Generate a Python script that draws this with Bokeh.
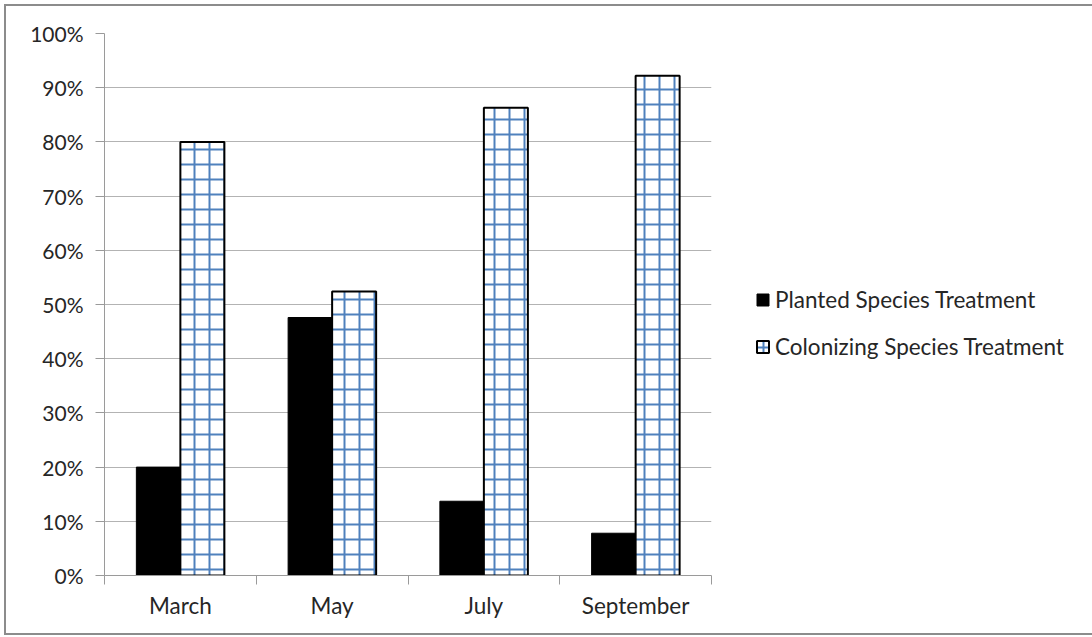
from bokeh.plotting import figure
from bokeh.models import (Range1d, FixedTicker, PrintfTickFormatter, Legend,
                          LegendItem, ColumnDataSource)
from bokeh.embed import file_html
from bokeh.resources import INLINE

# Share of cover by treatment, per sampling month (percent)
months = ["March", "May", "July", "September"]
planted = [20.0, 47.6, 13.7, 7.8]
colonizing = [80.0, 52.4, 86.3, 92.2]
y_ticks = list(range(0, 101, 10))

FONT = "Lato"
TEXT = "#262626"
GRAY = "#9a9a9a"

bar_w = 0.29
centers = [i + 0.5 for i in range(len(months))]
src = ColumnDataSource(dict(
    xp=[c - bar_w / 2 for c in centers],
    xc=[c + bar_w / 2 for c in centers],
    planted=planted,
    colonizing=colonizing,
))

p = figure(frame_width=607, frame_height=542, output_backend="svg",
           toolbar_location=None,
           x_range=Range1d(0, len(months)), y_range=Range1d(0, 100),
           min_border_left=98, min_border_right=377, min_border_top=27,
           min_border_bottom=58, margin=(4, 4, 4, 4))
p.styles = {"border": "2px solid #8c8c8c"}
p.outline_line_color = None
p.background_fill_color = "white"
p.border_fill_color = "white"

r1 = p.vbar(x="xp", top="planted", width=bar_w, source=src,
            fill_color="black", line_color="black", line_width=1)
r2 = p.vbar(x="xc", top="colonizing", width=bar_w, source=src,
            fill_color="white", line_color="black", line_width=2,
            hatch_pattern="+", hatch_color="#4f81bd", hatch_weight=2,
            hatch_scale=15)

# y axis: percent ticks
p.yaxis.ticker = FixedTicker(ticks=y_ticks)
p.yaxis.formatter = PrintfTickFormatter(format="%d%%")
p.yaxis.axis_line_color = GRAY
p.yaxis.major_tick_line_color = GRAY
p.yaxis.major_tick_in = 0
p.yaxis.major_tick_out = 9
p.yaxis.minor_tick_line_color = None
p.yaxis.major_label_standoff = 12
p.yaxis.major_label_text_font = FONT
p.yaxis.major_label_text_font_size = "21px"
p.yaxis.major_label_text_color = TEXT

# x axis: labels at category centers, tick marks between categories
p.xaxis.ticker = FixedTicker(ticks=centers,
                             minor_ticks=list(range(len(months) + 1)))
p.xaxis.major_label_overrides = {c: m for c, m in zip(centers, months)}
p.xaxis.axis_line_color = GRAY
p.xaxis.major_tick_line_color = None
p.xaxis.minor_tick_line_color = GRAY
p.xaxis.minor_tick_in = 0
p.xaxis.minor_tick_out = 9
p.xaxis.major_label_standoff = 7
p.xaxis.major_label_text_font = FONT
p.xaxis.major_label_text_font_size = "22.5px"
p.xaxis.major_label_text_color = TEXT

p.xgrid.grid_line_color = None
p.ygrid.ticker = FixedTicker(ticks=y_ticks)
p.ygrid.grid_line_color = "#b3b3b3"
p.ygrid.grid_line_width = 1.2

legend = Legend(items=[
    LegendItem(label="Planted Species Treatment", renderers=[r1]),
    LegendItem(label="Colonizing Species Treatment", renderers=[r2]),
], location=(44, 215))
legend.border_line_color = None
legend.background_fill_alpha = 0
legend.padding = 0
legend.margin = 0
legend.glyph_width = 15
legend.glyph_height = 15
legend.spacing = 20
legend.label_text_font = FONT
legend.label_text_font_size = "22.5px"
legend.label_text_color = TEXT
legend.label_standoff = 5
p.add_layout(legend, "right")

open("out.html", "w").write(file_html(p, INLINE))
